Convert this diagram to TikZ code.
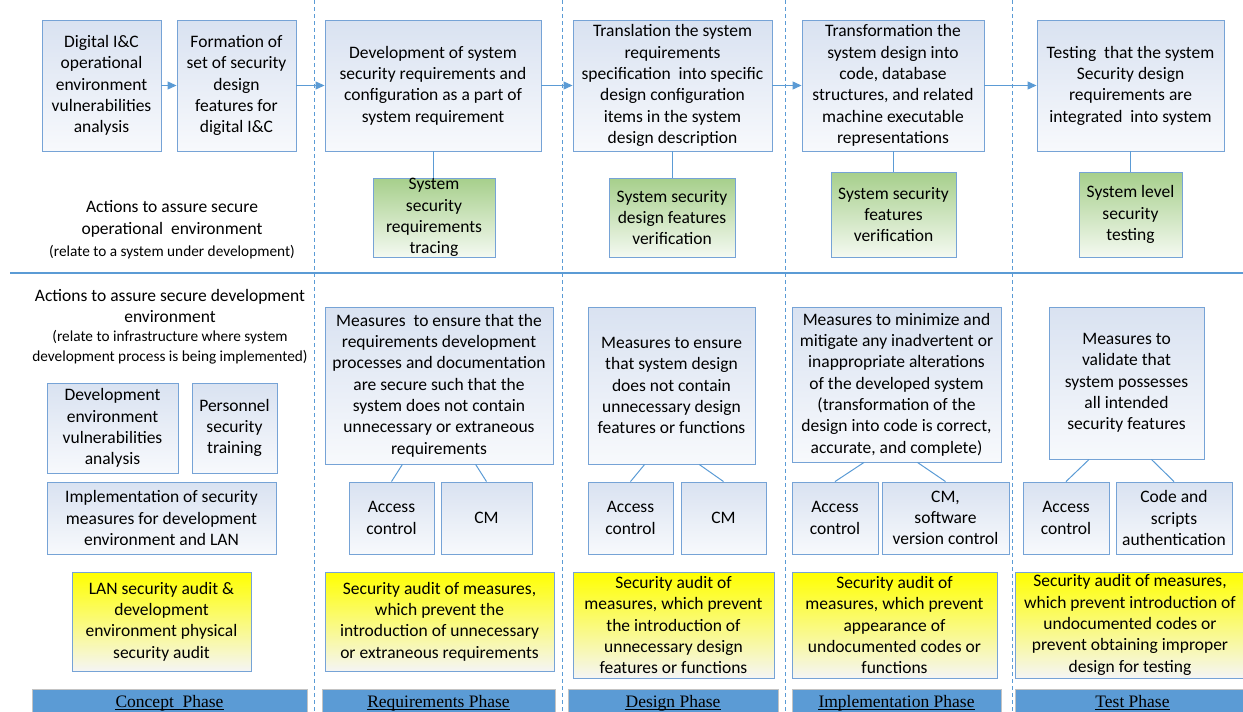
\documentclass[tikz,border=0pt]{standalone}
\usepackage{fontspec}
\setmainfont{Carlito}
\newfontfamily\phasefont{Liberation Serif}
\usetikzlibrary{arrows.meta,calc}
\definecolor{lineBlue}{RGB}{91,155,213}
\definecolor{edgeBlue}{RGB}{118,163,214}
\definecolor{paleBlue}{RGB}{217,226,241}
\definecolor{leafGreen}{RGB}{166,207,139}
\definecolor{auditYellow}{RGB}{255,255,0}
\definecolor{barEdge}{RGB}{195,195,195}

\begin{document}
\begin{tikzpicture}[x=1pt,y=-1pt,
  every node/.style={font=\fontsize{17.5}{21.3}\selectfont,align=center,inner sep=0pt},
  wh/.style 2 args={minimum width=#1pt,minimum height=#2pt},
  actbox/.style={draw=edgeBlue,line width=0.9pt,top color=paleBlue,bottom color=paleBlue!20},
  checkbox/.style={draw=edgeBlue,line width=0.9pt,top color=leafGreen,bottom color=leafGreen!12},
  auditbox/.style={draw=edgeBlue,line width=0.9pt,top color=auditYellow,bottom color=black!4},
  phasebar/.style={draw=barEdge,fill=lineBlue,line width=0.8pt},
  phasetext/.style={font=\phasefont\fontsize{17.5}{20}\selectfont},
  note/.style={font=\fontsize{15.3}{20}\selectfont},
  flow/.style={-{Triangle[length=9pt,width=8pt]},lineBlue,line width=1.1pt},
  link/.style={lineBlue,line width=1pt},
  sepline/.style={lineBlue,line width=0.9pt,dash pattern=on 4pt off 3pt}]
\useasboundingbox (0,0) rectangle (1243,712);
\clip (0,0) rectangle (1243,712);
\foreach \x in {314,562,785,1012}
  \draw[sepline] (\x,0) -- (\x,712);
\draw[lineBlue,line width=2.6pt] (10,273) -- (1243,273);

% operational environment
\node[actbox,wh={119}{131}] (opA) at (101.5,85.5) {Digital I\&C\\operational\\environment\\vulnerabilities\\analysis};
\node[actbox,wh={119}{131}] (opB) at (236.5,85.5) {Formation of\\set of security\\design\\features for\\digital I\&C};
\node[actbox,wh={216}{131}] (req) at (433,85.5) {Development of system\\security requirements and\\configuration as a part of\\system requirement};
\node[actbox,wh={199}{131}] (des) at (672.5,85.5) {Translation the system\\requirements\\specification\ \ into specific\\design configuration\\items in the system\\design description};
\node[actbox,wh={182}{131}] (imp) at (893,85.5) {Transformation the\\system design into\\code, database\\structures, and related\\machine executable\\representations};
\node[actbox,wh={187}{131}] (tst) at (1130.5,85.5) {Testing\ \ that the system\\Security design\\requirements are\\integrated\ \ into system};
\draw[flow] (opA) -- (opB);
\draw[flow] (opB) -- (req);
\draw[flow] (req) -- (des);
\draw[flow] (des) -- (imp);
\draw[flow] (imp) -- (tst);

\node[checkbox,wh={122}{79}] (trcR) at (434,217.5) {System\\security\\requirements\\tracing};
\node[checkbox,wh={126}{79}] (verD) at (672,217.5) {System security\\design features\\verification};
\node[checkbox,wh={125}{85}] (verI) at (893.5,214.5) {System security\\features\\verification};
\node[checkbox,wh={103}{85}] (tstS) at (1130.5,214.5) {System level\\security\\testing};
\draw[link] (req.south) -- (req.south |- trcR.north);
\draw[link] (des.south) -- (des.south |- verD.north);
\draw[link] (imp.south) -- (imp.south |- verI.north);
\draw[link] (tst.south) -- (tst.south |- tstS.north);

\node (opTitle) at (172,219) {Actions to assure secure\\operational\ \ environment};
\node[note] (opNote) at (172,252) {(relate to a system under development)};

% development environment
\node (devTitle) at (170,306) {Actions to assure secure development\\environment};
\node[note] (devNote) at (170,347) {(relate to infrastructure where system\\development process is being implemented)};
\node[actbox,wh={131}{90}] (devA) at (112.5,428) {Development\\environment\\vulnerabilities\\analysis};
\node[actbox,wh={85}{90}] (devB) at (234.5,428) {Personnel\\security\\training};
\node[actbox,wh={229}{72}] (devC) at (161.5,518) {Implementation of security\\measures for development\\environment and LAN};

\node[actbox,wh={228}{157}] (mReq) at (439,385.5) {Measures\ \ to ensure that the\\requirements development\\processes and documentation\\are secure such that the\\system does not contain\\unnecessary or extraneous\\requirements};
\node[actbox,wh={85}{72}] (acR) at (391.5,518) {Access\\control};
\node[actbox,wh={91}{72}] (cmR) at (486.5,518) {CM};
\node[actbox,wh={167}{157}] (mDes) at (671.5,385.5) {Measures to ensure\\that system design\\does not contain\\unnecessary design\\features or functions};
\node[actbox,wh={85}{72}] (acD) at (630.5,518) {Access\\control};
\node[actbox,wh={85}{72}] (cmD) at (723.5,518) {CM};
\node[actbox,wh={209}{155}] (mImp) at (896.5,384.5) {Measures to minimize and\\mitigate any inadvertent or\\inappropriate alterations\\of the developed system\\(transformation of the\\design into code is correct,\\accurate, and complete)};
\node[actbox,wh={86}{72}] (acI) at (835,518) {Access\\control};
\node[actbox,wh={127}{72}] (cmI) at (945.5,518) {CM,\\software\\version control};
\node[actbox,wh={155}{152}] (mTst) at (1126.5,383) {Measures to\\validate that\\system possesses\\all intended\\security features};
\node[actbox,wh={86}{72}] (acT) at (1066,518) {Access\\control};
\node[actbox,wh={116}{72}] (csT) at (1174,518) {Code and\\scripts\\authentication};
\draw[link] ($(mReq.south west)!.34!(mReq.south east)$) -- (acR.north);
\draw[link] ($(mReq.south west)!.66!(mReq.south east)$) -- (cmR.north);
\draw[link] ($(mDes.south west)!.34!(mDes.south east)$) -- (acD.north);
\draw[link] ($(mDes.south west)!.665!(mDes.south east)$) -- (cmD.north);
\draw[link] ($(mImp.south west)!.345!(mImp.south east)$) -- (acI.north);
\draw[link] ($(mImp.south west)!.6!(mImp.south east)$) -- (cmI.north);
\draw[link] ($(mTst.south west)!.26!(mTst.south east)$) -- (acT.north);
\draw[link] ($(mTst.south west)!.66!(mTst.south east)$) -- (csT.north);

% audits
\node[auditbox,wh={179}{99}] (audC) at (161.5,621.5) {LAN security audit \&\\development\\environment physical\\security audit};
\node[auditbox,wh={229}{99}] (audR) at (439.5,621.5) {Security audit of measures,\\which prevent the\\introduction of unnecessary\\or extraneous requirements};
\node[auditbox,wh={201}{106}] (audD) at (673.5,625) {Security audit of\\measures, which prevent\\the introduction of\\unnecessary design\\features or functions};
\node[auditbox,wh={205}{106}] (audI) at (894.5,625) {Security audit of\\measures, which prevent\\appearance of\\undocumented codes or\\functions};
\node[auditbox,wh={230}{106}] (audT) at (1130,625) {Security audit of measures,\\which prevent introduction of\\undocumented codes or\\prevent obtaining improper\\design for testing};

% phases
\foreach \cx/\w/\lab [count=\i] in {169.5/275/Concept\ \ Phase,438.5/233/Requirements Phase,673/210/Design Phase,896.5/209/Implementation Phase,1132.5/235/Test Phase}{
  \node[phasebar,wh={\w}{30}] (phase\i) at (\cx,704) {};
  \node[phasetext,anchor=base] (label\i) at (\cx,707.5) {\lab};
  \draw[line width=0.8pt] ([yshift=-1.6pt]label\i.base west) -- ([yshift=-1.6pt]label\i.base east);
}
\end{tikzpicture}
\end{document}
